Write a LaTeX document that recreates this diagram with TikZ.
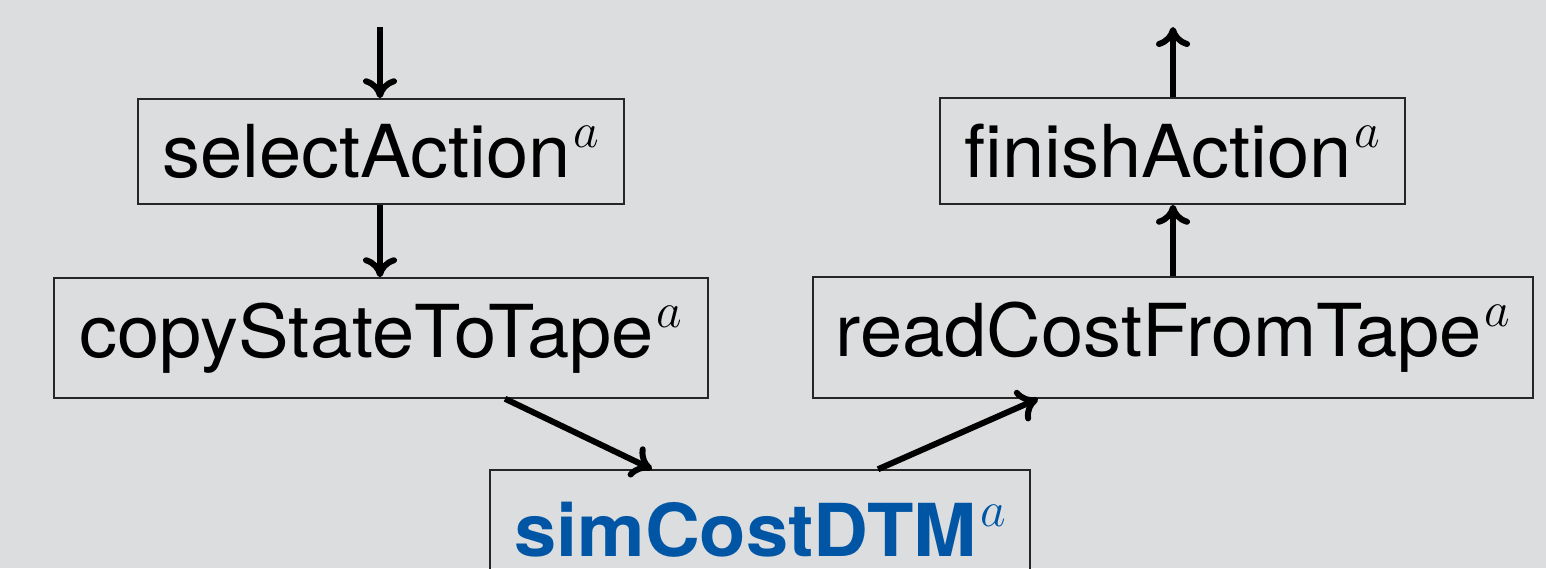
\documentclass[tikz,border=0pt]{standalone}
\usepackage{fontspec}
\setmainfont{TeX Gyre Heros}[FakeStretch=1.04]
\usetikzlibrary{arrows.meta,calc}
\definecolor{bg}{RGB}{220,221,223}
\definecolor{simblue}{RGB}{0,85,165}
\newcommand{\supa}{\kern1.5pt\raisebox{15pt}{\fontsize{26}{26}\selectfont$a$}}
\tikzset{
  box/.style={draw=black!85, line width=0.75pt, inner sep=0pt, font=\fontsize{36.5}{40}\selectfont},
  flow/.style={line width=3pt, -{To[length=10pt,width=17pt]}},
}
\begin{document}
\begin{tikzpicture}[x=0.5pt,y=-0.5pt]
\fill[bg] (0,0) rectangle (1546,568);
\useasboundingbox (0,0) rectangle (1546,568);
\node[box, minimum width=243pt, minimum height=52.5pt] (sel) at (381,151.5) {selectAction\supa};
\node[box, minimum width=327pt, minimum height=60pt] (copy) at (381,338) {copyStateToTape\supa};
\node[box, minimum width=270pt, minimum height=60pt, text=simblue, font=\fontsize{36.5}{40}\selectfont\bfseries] (sim) at (760,530) {simCostDTM\supa};
\node[box, minimum width=360pt, minimum height=60.5pt] (read) at (1173,337.5) {readCostFromTape\supa};
\node[box, minimum width=232.5pt, minimum height=53pt] (fin) at (1172.5,151) {finishAction\supa};
\coordinate (in) at (380,27);
\coordinate (out) at (1173,27);
\draw[flow] (in) -- (sel.north -| in);
\draw[flow] (sel.south -| in) -- (copy.north -| in);
\draw[flow] ([shift={(124,0)}]copy.south) -- ([shift={(-108,0)}]sim.north);
\draw[flow] ([shift={(118,0)}]sim.north) -- ([shift={(-135,0)}]read.south);
\draw[flow] (read.north -| out) -- (fin.south -| out);
\draw[flow] (fin.north -| out) -- (out);
\end{tikzpicture}
\end{document}
